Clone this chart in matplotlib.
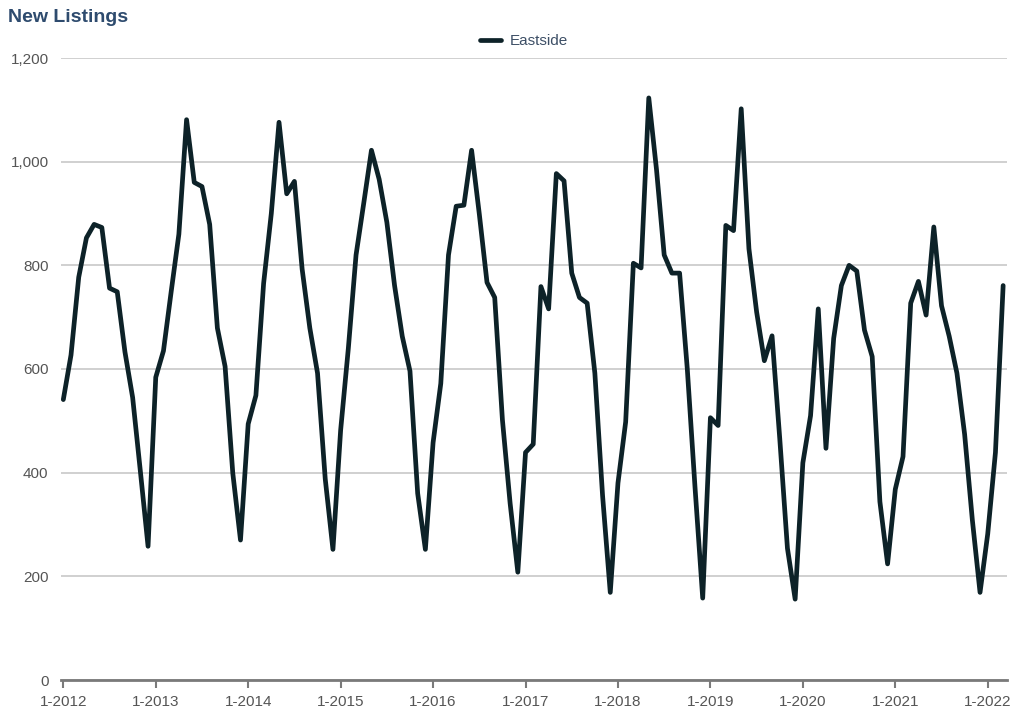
import matplotlib.pyplot as plt

# monthly new listings, Eastside, Jan 2012 .. Mar 2022
y2012 = [541, 627, 777, 853, 879, 873, 756, 749, 633, 545, 403, 258]
y2013 = [584, 635, 749, 860, 1081, 960, 952, 879, 679, 605, 399, 270]
y2014 = [494, 549, 765, 900, 1076, 938, 962, 793, 679, 592, 388, 252]
y2015 = [482, 640, 820, 920, 1022, 966, 883, 761, 663, 596, 360, 252]
y2016 = [458, 572, 820, 914, 916, 1022, 899, 767, 738, 502, 341, 208]
y2017 = [439, 455, 759, 716, 977, 963, 785, 738, 727, 592, 356, 169]
y2018 = [380, 498, 804, 795, 1123, 985, 820, 785, 785, 600, 372, 158]
y2019 = [506, 491, 877, 867, 1102, 832, 710, 616, 664, 466, 254, 156]
y2020 = [419, 510, 716, 447, 659, 761, 800, 789, 675, 624, 344, 224]
y2021 = [368, 431, 727, 769, 704, 874, 722, 663, 592, 474, 309, 169]
y2022 = [282, 439, 761]

values = y2012 + y2013 + y2014 + y2015 + y2016 + y2017 + y2018 + y2019 + y2020 + y2021 + y2022
months = list(range(len(values)))
year_labels = ['1-%d' % y for y in range(2012, 2023)]
y_ticks = [0, 200, 400, 600, 800, 1000, 1200]

plt.rcParams['font.family'] = ['Liberation Sans', 'DejaVu Sans']

fig = plt.figure(figsize=(10.24, 7.09), dpi=100)
ax = fig.add_axes([61 / 1024, 1 - 680 / 709, 946 / 1024, 622 / 709])

ax.plot(months, values, color='#0d2228', linewidth=3.4, solid_joinstyle='round',
        solid_capstyle='round', label='Eastside', zorder=3)

ax.set_xlim(-0.3, 122.5)
ax.set_ylim(0, 1200)
ax.set_xticks(range(0, 121, 12))
ax.set_xticklabels(year_labels)
ax.set_yticks(y_ticks)
ax.set_yticklabels(['{:,}'.format(v) for v in y_ticks])

ax.grid(axis='y', color='#c8c8c8', linewidth=1.2)
ax.set_axisbelow(True)
for s in ['top', 'right', 'left']:
    ax.spines[s].set_visible(False)
ax.spines['bottom'].set_color('#7a7a7a')
ax.spines['bottom'].set_linewidth(2)
ax.spines['bottom'].set_zorder(4)

ax.tick_params(axis='x', colors='#7a7a7a', length=6, width=1.5, labelsize=11,
               labelcolor='#555555', pad=5)
ax.tick_params(axis='y', length=0, labelsize=11, labelcolor='#555555', pad=9)

fig.text(8 / 1024, 1 - 17 / 709, 'New Listings', fontsize=14, fontweight='bold',
         color='#2e4b6e', va='center', ha='left')

ax.legend(loc='center', bbox_to_anchor=(524 / 1024, 1 - 41 / 709),
          bbox_transform=fig.transFigure, frameon=False, fontsize=11,
          handlelength=1.4, handletextpad=0.6, labelcolor='#3d4f66')

fig.savefig('out.png', dpi=100)
